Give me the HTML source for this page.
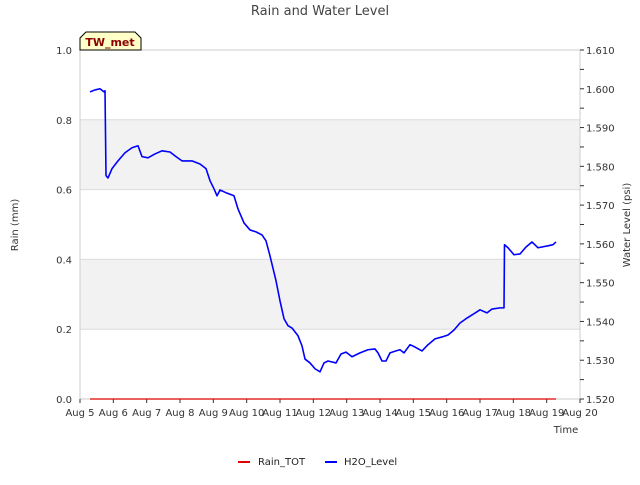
<!DOCTYPE html>
<html><head><meta charset="utf-8"><style>
body{margin:0;background:#fff;font-family:"Liberation Sans","DejaVu Sans",sans-serif}
svg text{font-family:"DejaVu Sans","Liberation Sans",sans-serif}
</style></head><body>
<svg id="chart" width="640" height="480" xmlns="http://www.w3.org/2000/svg">
<text x="320" y="15" text-anchor="middle" font-size="13" fill="#444">Rain and Water Level</text>
<g id="plot"></g>
<text x="18" y="225" font-size="10" fill="#333" text-anchor="middle" transform="rotate(-90 18 225)">Rain (mm)</text>
<text x="630" y="225" font-size="10" fill="#333" text-anchor="middle" transform="rotate(-90 630 225)">Water Level (psi)</text>
<text x="566" y="433" font-size="10" fill="#333" text-anchor="middle">Time</text>
<g>
<path d="M80,50 L80,38 L86,32 L135,32 L141,38 L141,50 Z" fill="#ffffc8" stroke="#000" stroke-width="1"/>
<text x="110" y="46" font-size="11" font-weight="bold" fill="#8b0000" text-anchor="middle">TW_met</text>
</g>
<g>
<g><line x1="238" y1="462" x2="250" y2="462" stroke="#e00000" stroke-width="2"/><text x="258" y="465" font-size="10" fill="#222">Rain_TOT</text></g>
<g><line x1="325" y1="462" x2="337" y2="462" stroke="#0000ff" stroke-width="2"/><text x="344" y="465" font-size="10" fill="#222">H2O_Level</text></g>
</g>
</svg>
<script>
const xTicks=[5,6,7,8,9,10,11,12,13,14,15,16,17,18,19,20];
const leftTicks=[0,0.2,0.4,0.6,0.8,1.0];
const rightTicks=[1.52,1.53,1.54,1.55,1.56,1.57,1.58,1.59,1.6,1.61];
const rainDays=[5.30,12,19.28];
const rainVals=[0,0,0];
const levelDays=[5.30,5.45,5.60,5.72,5.75,5.78,5.84,5.96,6.14,6.35,6.56,6.74,6.86,7.04,7.25,7.46,7.70,7.88,8.06,8.36,8.60,8.78,8.90,9.02,9.11,9.20,9.38,9.62,9.74,9.92,10.10,10.28,10.46,10.58,10.70,10.88,11.00,11.12,11.24,11.36,11.54,11.66,11.75,11.90,12.05,12.20,12.32,12.44,12.68,12.83,12.98,13.16,13.40,13.64,13.85,13.94,14.06,14.18,14.30,14.48,14.60,14.72,14.90,15.05,15.26,15.44,15.65,15.86,16.04,16.22,16.40,16.58,16.82,17.00,17.21,17.36,17.60,17.72,17.735,17.84,18.02,18.20,18.38,18.56,18.74,19.04,19.19,19.28];
const levelVals=[1.5992,1.5997,1.6000,1.5992,1.5995,1.5776,1.5770,1.5794,1.5814,1.5835,1.5848,1.5853,1.5825,1.5822,1.5832,1.5840,1.5837,1.5825,1.5814,1.5814,1.5806,1.5794,1.5763,1.5742,1.5724,1.5739,1.5732,1.5724,1.5690,1.5654,1.5636,1.5631,1.5623,1.5608,1.5569,1.5505,1.5453,1.5407,1.5389,1.5383,1.5363,1.5337,1.5303,1.5293,1.5278,1.5270,1.5293,1.5298,1.5293,1.5316,1.5321,1.5309,1.5319,1.5327,1.5329,1.5319,1.5298,1.5298,1.5319,1.5324,1.5327,1.5319,1.5340,1.5334,1.5324,1.5340,1.5355,1.5360,1.5365,1.5378,1.5396,1.5407,1.5420,1.5430,1.5422,1.5432,1.5435,1.5435,1.5598,1.5590,1.5572,1.5574,1.5592,1.5605,1.5590,1.5595,1.5598,1.5605];

const NS="http://www.w3.org/2000/svg";
const L=80,R=580,T=50,B=399;
const X=d=>L+(d-5)/15*(R-L);
const YL=v=>B-v*(B-T);
const YR=v=>B-(v-1.52)/0.09*(B-T);
const g=document.getElementById('plot');
function mk(tag,attrs){const e=document.createElementNS(NS,tag);for(const k in attrs)e.setAttribute(k,attrs[k]);g.appendChild(e);return e;}
// bands
for(let i=0;i<leftTicks.length-1;i++){
  if(i%2===1){const r=mk('rect',{x:L,y:YL(leftTicks[i+1]),width:R-L,height:YL(leftTicks[i])-YL(leftTicks[i+1]),fill:'#f2f2f2'});
  
  }
}
leftTicks.forEach(v=>{
  const ln=mk('line',{x1:L,x2:R,y1:YL(v),y2:YL(v),stroke:'#dcdcdc','stroke-width':1});
  
  
  const t=mk('text',{x:L-8,y:YL(v)+4,'font-size':10,fill:'#333','text-anchor':'end'});
  t.textContent=v.toFixed(1);
  
  
});
const frame=mk('rect',{x:L,y:T,width:R-L,height:B-T,fill:'none',stroke:'#ccc','stroke-width':1});


rightTicks.forEach((v,i)=>{
  const tk=mk('line',{x1:R,x2:R+4,y1:YR(v),y2:YR(v),stroke:'#333'});
  
  
  if(i<rightTicks.length-1){const m=mk('line',{x1:R,x2:R+4,y1:YR(v+0.005),y2:YR(v+0.005),stroke:'#333'});
  
  }
  const t=mk('text',{x:R+6,y:YR(v)+4,'font-size':10,fill:'#333'});
  t.textContent=v.toFixed(3);
  
  
});
xTicks.forEach(d=>{
  const tk=mk('line',{x1:X(d),x2:X(d),y1:B,y2:B+4,stroke:'#333'});
  
  
  const t=mk('text',{x:X(d),y:B+17,'font-size':10,fill:'#333','text-anchor':'middle'});
  t.textContent='Aug '+d;
  
  
});
const rain=mk('polyline',{points:rainDays.map((d,i)=>X(d)+','+YL(rainVals[i])).join(' '),fill:'none',stroke:'#e00000','stroke-width':1.2});


const lvl=mk('polyline',{points:levelDays.map((d,i)=>X(d)+','+YR(levelVals[i])).join(' '),fill:'none',stroke:'#0000ff','stroke-width':1.6,'stroke-linejoin':'round'});


</script>
</body></html>
